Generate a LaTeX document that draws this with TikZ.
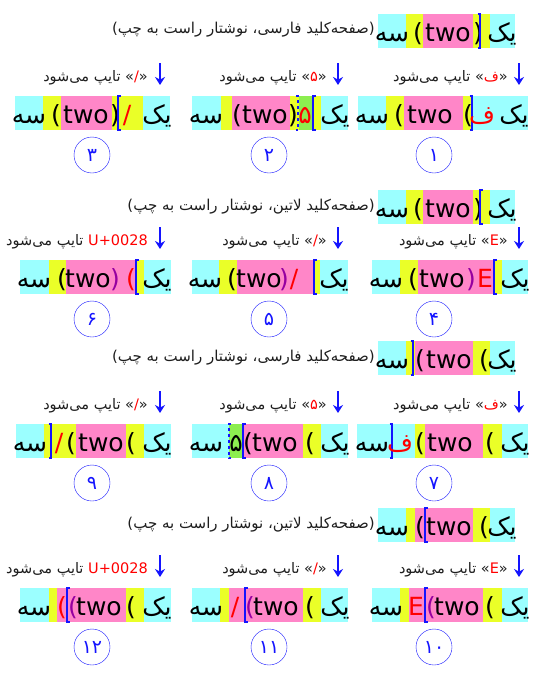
\documentclass[tikz,border=0pt]{standalone}
\usepackage{fontspec}
\setmainfont{DejaVu Sans}
\newfontfamily\fa[Script=Arabic]{DejaVu Sans}
\TeXXeTstate=1
\usetikzlibrary{arrows.meta}
\definecolor{rtlbg}{RGB}{155,255,255}
\definecolor{neubg}{RGB}{234,255,40}
\definecolor{ltrbg}{RGB}{255,134,200}
\definecolor{numbg}{RGB}{140,238,80}
\definecolor{azul}{RGB}{20,20,255}
\definecolor{rojo}{RGB}{255,0,0}
\definecolor{morado}{RGB}{150,0,160}
\definecolor{gristexto}{RGB}{30,30,30}
\newcommand{\rtl}[1]{{\fa\beginR#1\endR}}
\newcommand{\caretR}[2]{\draw[caret] (#1+2.5,#2) -- (#1,#2) -- (#1,#2+34) -- (#1+2.5,#2+34);}
\newcommand{\caretL}[2]{\draw[caret] (#1-2.5,#2) -- (#1,#2) -- (#1,#2+34) -- (#1-2.5,#2+34);}
\begin{document}
\begin{tikzpicture}[x=1pt, y=-1pt,
    big/.style={font=\fontsize{25}{30}\selectfont, inner sep=0pt, anchor=base},
    note/.style={font=\fontsize{14.5}{17}\selectfont, inner sep=0pt, anchor=base east, text=gristexto},
    num/.style={draw=azul, circle, minimum size=36pt, inner sep=0pt, font=\fa\fontsize{19}{21}\selectfont, text=azul},
    flecha/.style={-{Stealth[length=8pt,width=10pt]}, azul, line width=1.6pt},
    caret/.style={azul, line width=1.3pt},
    rtlc/.style={fill=rtlbg}, neuc/.style={fill=neubg},
    ltrc/.style={fill=ltrbg}, numc/.style={fill=numbg}]
  \useasboundingbox (0,0) rectangle (536,680);
  % cabeceras
  \foreach \t in {14,190} {
    \foreach \c/\a/\b in {rtlc/378/406, neuc/406/423, ltrc/423/473, neuc/473/490, rtlc/490/515}
      \fill[\c] (\a,\t) rectangle (\b,\t+34);
    \node[big] at (392,\t+27) {\rtl{سه}}; \node[big] at (418,\t+27) {(};
    \node[big] at (448,\t+27) {two}; \node[big] at (478,\t+27) {)};
    \node[big] at (502,\t+27) {\rtl{یک}};
  }
  \foreach \t in {341,508} {
    \foreach \c/\a/\b in {rtlc/378/406, neuc/406/415, ltrc/415/473, neuc/473/490, rtlc/490/515}
      \fill[\c] (\a,\t) rectangle (\b,\t+34);
    \node[big] at (392,\t+27) {\rtl{سه}}; \node[big] at (420,\t+27) {(};
    \node[big] at (449,\t+27) {two}; \node[big] at (484,\t+27) {(};
    \node[big] at (502,\t+27) {\rtl{یک}};
  }
  \caretL{480}{14} \caretR{480}{190} \caretL{413}{341} \caretR{425}{508}
  \node[note,font=\fontsize{15}{17}\selectfont] (tfa1) at (375,34) {(\rtl{صفحه‌کلید فارسی، نوشتار راست به چپ})};
  \node[note,font=\fontsize{15}{17}\selectfont] (tla1) at (375,210) {(\rtl{صفحه‌کلید لاتین، نوشتار راست به چپ})};
  \node[note,font=\fontsize{15}{17}\selectfont] (tfa2) at (375,361) {(\rtl{صفحه‌کلید فارسی، نوشتار راست به چپ})};
  \node[note,font=\fontsize{15}{17}\selectfont] (tla2) at (375,528) {(\rtl{صفحه‌کلید لاتین، نوشتار راست به چپ})};
  % etiquetas
  \foreach \y/\ka/\kb in {74/{\fa ف}/{\fa ۵}, 238/E/{/}, 402/{\fa ف}/{\fa ۵}, 566/E/{/}} {
    \foreach \x in {160,338,519} \draw[flecha] (\x,\y-11) -- (\x,\y+11);
    \node[note] at (508,\y+7) {\rtl{تایپ می‌شود} «\textcolor{rojo}{\ka}»};
    \node[note] at (327,\y+7) {\rtl{تایپ می‌شود} «\textcolor{rojo}{\kb}»};
  }
  \node[note] at (148,81) {\rtl{تایپ می‌شود} «\textcolor{rojo}{/}»};
  \node[note] at (148,245) {\rtl{تایپ می‌شود} \textcolor{rojo}{U+0028}};
  \node[note] at (148,409) {\rtl{تایپ می‌شود} «\textcolor{rojo}{/}»};
  \node[note] at (148,573) {\rtl{تایپ می‌شود} \textcolor{rojo}{U+0028}};
  % fila 1
  \foreach \c/\a/\b in {rtlc/358/386, neuc/386/404, ltrc/404/463, neuc/463/473, rtlc/473/528}
    \fill[\c] (\a,96) rectangle (\b,130);
  \node[big] at (372,123) {\rtl{سه}}; \node[big] at (399,123) {(};
  \node[big] at (430,123) {two}; \node[big] at (468,123) {(};
  \caretL{472}{96}
  \node[big,text=rojo] at (482,123) {\rtl{ف}}; \node[big] at (514,123) {\rtl{یک}};
  \foreach \c/\a/\b in {rtlc/192/221, neuc/221/232, ltrc/232/290, neuc/290/299, numc/299/312, neuc/312/321, rtlc/321/348}
    \fill[\c] (\a,96) rectangle (\b,130);
  \node[big] at (206,123) {\rtl{سه}}; \node[big] at (237,123) {(};
  \node[big] at (265,123) {two}; \node[big] at (293,123) {)};
  \draw[caret,dashed] (296,96) -- (298,96) -- (298,130) -- (296,130);
  \node[big,text=rojo] at (305,123) {\fa ۵}; \caretR{313}{96}
  \node[big] at (335,123) {\rtl{یک}};
  \foreach \c/\a/\b in {rtlc/15/43, neuc/43/61, ltrc/61/112, neuc/112/143, rtlc/143/170}
    \fill[\c] (\a,96) rectangle (\b,130);
  \node[big] at (29,123) {\rtl{سه}}; \node[big] at (56,123) {(};
  \node[big] at (86,123) {two}; \node[big] at (115,123) {)};
  \caretR{118}{96}
  \node[big,text=rojo] at (127,123) {/}; \node[big] at (157,123) {\rtl{یک}};
  % fila 2
  \foreach \c/\a/\b in {rtlc/372/400, neuc/400/418, ltrc/418/493, neuc/493/502, rtlc/502/528}
    \fill[\c] (\a,260) rectangle (\b,294);
  \node[big] at (386,287) {\rtl{سه}}; \node[big] at (413,287) {(};
  \node[big] at (442,287) {two}; \node[big,text=morado] at (471,287) {)};
  \node[big,text=rojo] at (485,287) {E}; \caretR{494}{260}
  \node[big] at (515,287) {\rtl{یک}};
  \foreach \c/\a/\b in {rtlc/192/219, neuc/219/237, ltrc/237/313, neuc/313/320, rtlc/320/348}
    \fill[\c] (\a,260) rectangle (\b,294);
  \node[big] at (205,287) {\rtl{سه}}; \node[big] at (232,287) {(};
  \node[big] at (259,287) {two}; \node[big,text=morado] at (284,287) {)};
  \node[big,text=rojo] at (294,287) {/}; \caretR{314}{260}
  \node[big] at (334,287) {\rtl{یک}};
  \foreach \c/\a/\b in {rtlc/20/49, neuc/49/66, ltrc/66/135, neuc/135/144, rtlc/144/171}
    \fill[\c] (\a,260) rectangle (\b,294);
  \node[big] at (34,287) {\rtl{سه}}; \node[big] at (62,287) {(};
  \node[big] at (88,287) {two}; \node[big,text=morado] at (115,287) {)};
  \node[big,text=rojo] at (131,287) {(}; \caretR{136}{260}
  \node[big] at (157,287) {\rtl{یک}};
  % fila 3
  \foreach \c/\a/\b in {rtlc/357/415, neuc/415/425, ltrc/425/483, neuc/483/502, rtlc/502/528}
    \fill[\c] (\a,424) rectangle (\b,458);
  \node[big] at (372,451) {\rtl{سه}}; \caretL{392}{424}
  \node[big,text=rojo] at (400,451) {\rtl{ف}}; \node[big] at (420,451) {(};
  \node[big] at (450,451) {two}; \node[big] at (490,451) {(};
  \node[big] at (515,451) {\rtl{یک}};
  \foreach \c/\a/\b in {rtlc/192/229, numc/229/242, ltrc/242/303, neuc/303/321, rtlc/321/348}
    \fill[\c] (\a,424) rectangle (\b,458);
  \node[big] at (206,451) {\rtl{سه}}; \draw[caret,dashed] (231,424) -- (229,424) -- (229,458) -- (231,458);
  \node[big] at (236,451) {\fa ۵}; \caretR{243}{424}
  \node[big] at (248,451) {(}; \node[big] at (275,451) {two}; \node[big] at (310,451) {(};
  \node[big] at (335,451) {\rtl{یک}};
  \foreach \c/\a/\b in {rtlc/16/44, neuc/44/76, ltrc/76/126, neuc/126/144, rtlc/144/171}
    \fill[\c] (\a,424) rectangle (\b,458);
  \node[big] at (30,451) {\rtl{سه}}; \caretL{51}{424}
  \node[big,text=rojo] at (59,451) {/}; \node[big] at (71,451) {(};
  \node[big] at (101,451) {two}; \node[big] at (131,451) {(};
  \node[big] at (157,451) {\rtl{یک}};
  % fila 4
  \foreach \c/\a/\b in {rtlc/372/400, neuc/400/409, ltrc/409/483, neuc/483/502, rtlc/502/528}
    \fill[\c] (\a,588) rectangle (\b,622);
  \node[big] at (386,615) {\rtl{سه}}; \node[big,text=rojo] at (416,615) {E};
  \caretR{425}{588}
  \node[big,text=morado] at (431,615) {(}; \node[big] at (457,615) {two};
  \node[big] at (490,615) {(}; \node[big] at (515,615) {\rtl{یک}};
  \foreach \c/\a/\b in {rtlc/192/220, neuc/220/229, ltrc/229/303, neuc/303/321, rtlc/321/348}
    \fill[\c] (\a,588) rectangle (\b,622);
  \node[big] at (206,615) {\rtl{سه}}; \node[big,text=rojo] at (235,615) {/};
  \caretR{245}{588}
  \node[big,text=morado] at (250,615) {(}; \node[big] at (276,615) {two};
  \node[big] at (310,615) {(}; \node[big] at (335,615) {\rtl{یک}};
  \foreach \c/\a/\b in {rtlc/20/49, neuc/49/57, ltrc/57/126, neuc/126/144, rtlc/144/171}
    \fill[\c] (\a,588) rectangle (\b,622);
  \node[big] at (34,615) {\rtl{سه}}; \node[big,text=rojo] at (62,615) {(};
  \caretR{67}{588}
  \node[big,text=morado] at (73,615) {(}; \node[big] at (99,615) {two};
  \node[big] at (131,615) {(}; \node[big] at (157,615) {\rtl{یک}};
  % numeros
  \foreach \n/\x/\y in {۱/434/155, ۲/269/155, ۳/92/155, ۴/434/319, ۵/269/319, ۶/92/319,
                        ۷/434/483, ۸/269/483, ۹/92/483, ۱۰/434/647, ۱۱/269/647, ۱۲/92/647}
    \node[num] (c\x\y) at (\x,\y) {\n};
\end{tikzpicture}
\end{document}
